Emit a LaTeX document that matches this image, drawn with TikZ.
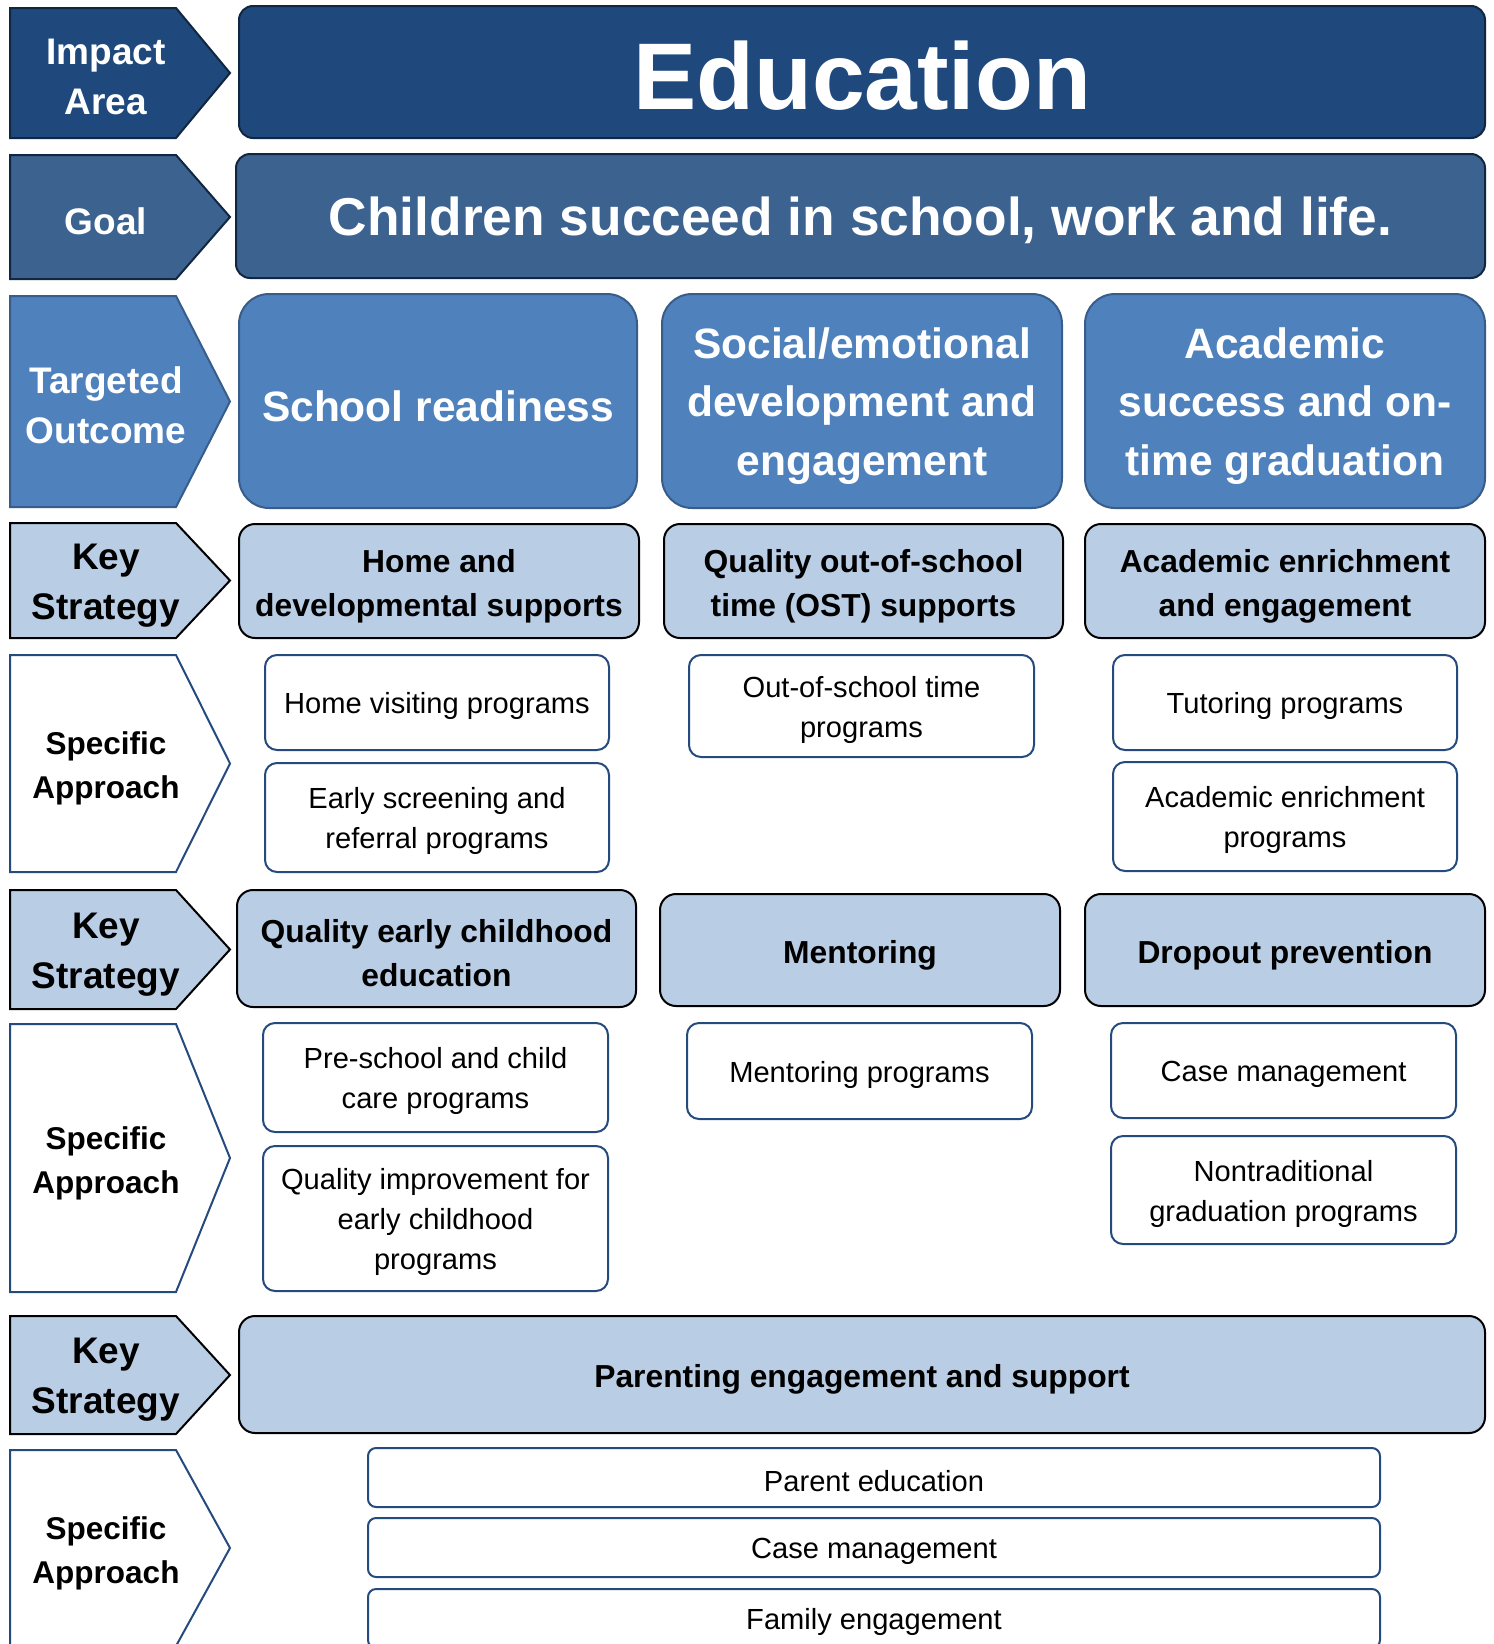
\documentclass[tikz,border=0pt]{standalone}
\usepackage{fontspec}
\setmainfont{Liberation Sans}
\usepackage{tikz}
\definecolor{impactblue}{RGB}{31,73,125}
\definecolor{goalblue}{RGB}{60,98,143}
\definecolor{outcomeblue}{RGB}{79,129,189}
\definecolor{strategyblue}{RGB}{185,205,229}
\definecolor{navyline}{RGB}{17,38,64}
\definecolor{outcomeline}{RGB}{56,93,138}
\definecolor{approachline}{RGB}{37,74,126}

\begin{document}
\begin{tikzpicture}[x=1pt, y=-1pt, line width=2pt,
    every node/.style={align=center, inner sep=0pt},
    impact/.style={fill=impactblue, draw=navyline},
    goal/.style={fill=goalblue, draw=navyline},
    outcome/.style={fill=outcomeblue, draw=outcomeline},
    strategy/.style={fill=strategyblue, draw=black},
    approach/.style={fill=white, draw=approachline},
    darklbl/.style={text=white, yshift=-4pt, font=\bfseries\fontsize{37}{50}\selectfont},
    keylbl/.style={yshift=-5pt, font=\bfseries\fontsize{37}{50}\selectfont},
    applbl/.style={yshift=-5pt, font=\bfseries\fontsize{31.5}{44}\selectfont},
    wh/.style 2 args={minimum width=#1pt, minimum height=#2pt},
    educbox/.style={impact, rounded corners=14pt},
    goalbox/.style={goal, rounded corners=14pt},
    outbox/.style={outcome, rounded corners=30pt},
    stratbox/.style={strategy, rounded corners=16pt},
    appbox/.style={approach, rounded corners=12pt},
    parbox/.style={approach, rounded corners=8pt},
    eductxt/.style={text=white, yshift=-4pt, font=\bfseries\fontsize{94.7}{100}\selectfont},
    goaltxt/.style={text=white, yshift=-4pt, font=\bfseries\fontsize{53.3}{60}\selectfont},
    outtxt/.style={text=white, yshift=-5pt, font=\bfseries\fontsize{42.5}{58.7}\selectfont},
    strattxt/.style={yshift=-5pt, font=\bfseries\fontsize{31.8}{44}\selectfont},
    apptxt/.style={yshift=-3.5pt, font=\fontsize{29.1}{40}\selectfont}]
    \useasboundingbox (0,0) rectangle (1494,1644);
    \clip (0,0) rectangle (1494,1644);

    \foreach \i/\ya/\yb/\sty/\lsty/\txt in {
      1/8/138/impact/darklbl/{Impact\\Area},
      2/155/279/goal/darklbl/Goal,
      3/296/507/outcome/darklbl/{Targeted\\Outcome},
      4/523/638/strategy/keylbl/{Key\\Strategy},
      5/655/872/approach/applbl/{Specific\\Approach},
      6/890/1009/strategy/keylbl/{Key\\Strategy},
      7/1024/1292/approach/applbl/{Specific\\Approach},
      8/1316/1434/strategy/keylbl/{Key\\Strategy},
      9/1450/1646/approach/applbl/{Specific\\Approach}}
    {\draw[\sty] (10,\ya) -- (176,\ya) -- (230,{(\ya+\yb)/2}) -- (176,\yb)
      -- (10,\yb) -- cycle;
     \node[\lsty] (lbl\i) at (106,{(\ya+\yb)/2}) {\txt};
    }

    \foreach \n/\x/\y/\w/\h/\sty/\tsty/\txt in {
      educ/862/72/1246/132/educbox/eductxt/Education,
      goal/860.5/216/1249/124/goalbox/goaltxt/{Children succeed in school, work and life.},
      out1/438/401/398/214/outbox/outtxt/School readiness,
      out2/862/401/400/214/outbox/outtxt/{Social/emotional\\development and\\engagement},
      out3/1285/401/400/214/outbox/outtxt/{Academic\\success and on-\\time graduation},
      str1/439/581/400/114/stratbox/strattxt/{Home and\\developmental supports},
      str2/863.5/581/399/114/stratbox/strattxt/{Quality out-of-school\\time (OST) supports},
      str3/1285/581/400/114/stratbox/strattxt/{Academic enrichment\\and engagement},
      app11/437/702.5/344/95/appbox/apptxt/Home visiting programs,
      app12/437/817.5/344/109/appbox/apptxt/{Early screening and\\referral programs},
      app21/861.5/706/345/102/appbox/apptxt/{Out-of-school time\\programs},
      app31/1285/702.5/344/95/appbox/apptxt/Tutoring programs,
      app32/1285/816.5/344/109/appbox/apptxt/{Academic enrichment\\programs},
      str4/436.5/948.5/399/117/stratbox/strattxt/{Quality early childhood\\education},
      str5/860/950/400/112/stratbox/strattxt/Mentoring,
      str6/1285/950/400/112/stratbox/strattxt/Dropout prevention,
      app41/435.5/1077.5/345/109/appbox/apptxt/{Pre-school and child\\care programs},
      app42/435.5/1218.5/345/145/appbox/apptxt/{Quality improvement for\\early childhood\\programs},
      app51/859.5/1071/345/96/appbox/apptxt/Mentoring programs,
      app61/1283.5/1070.5/345/95/appbox/apptxt/Case management,
      app62/1283.5/1190/345/108/appbox/apptxt/{Nontraditional\\graduation programs},
      str7/862/1374.5/1246/117/stratbox/strattxt/Parenting engagement and support,
      par1/874/1477.5/1012/59/parbox/apptxt/Parent education,
      par2/874/1547.5/1012/59/parbox/apptxt/Case management,
      par3/874/1618.5/1012/59/parbox/apptxt/Family engagement}
    {\node[\sty, wh={\w}{\h}] (\n) at (\x,\y) {};
     \node[\tsty] (\n-t) at (\n) {\txt};
    }
  \end{tikzpicture}
\end{document}
